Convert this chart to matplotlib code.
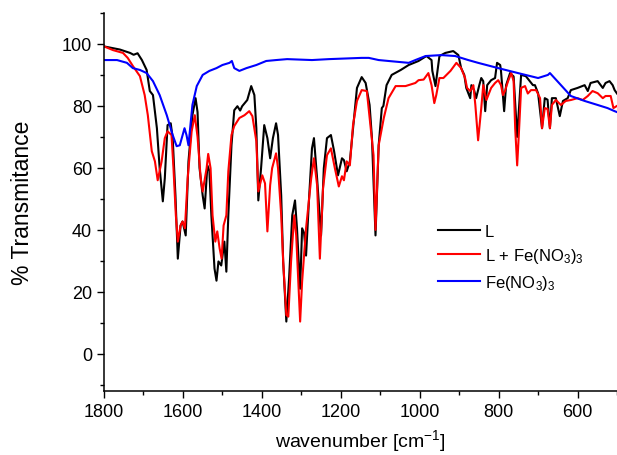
import numpy as np
import matplotlib
matplotlib.use("Agg")
import matplotlib.pyplot as plt
from matplotlib.ticker import MultipleLocator

plt.rcParams['font.family'] = ['Liberation Sans', 'DejaVu Sans']
plt.rcParams['mathtext.default'] = 'regular'

# ----------------------------------------------------
# DATA
# ----------------------------------------------------
wn_L = [1800, 1760, 1734, 1725, 1715, 1704, 1692, 1684, 1676, 1666, 1659, 1651, 1646,
        1639, 1631, 1626, 1619, 1613, 1606, 1601, 1593, 1586, 1576, 1568, 1563, 1558,
        1550, 1545, 1538, 1533, 1528, 1520, 1515, 1510, 1503, 1495, 1490, 1485, 1477,
        1470, 1462, 1455, 1450, 1437, 1427, 1419, 1414, 1409, 1402, 1394, 1386, 1379,
        1372, 1364, 1359, 1351, 1346, 1338, 1331, 1323, 1316, 1311, 1303, 1298, 1293,
        1288, 1280, 1273, 1268, 1260, 1250, 1243, 1235, 1225, 1217, 1207, 1197, 1192,
        1185, 1177, 1169, 1159, 1147, 1137, 1127, 1121, 1112, 1104, 1096, 1092, 1084,
        1071, 1048, 1028, 1003, 983, 970, 968, 960, 955, 950, 935, 915, 902, 895, 887,
        882, 872, 869, 862, 857, 849, 844, 839, 834, 829, 819, 809, 804, 796, 794, 786,
        781, 771, 762, 753, 748, 743, 731, 721, 713, 708, 700, 690, 683, 676, 670, 665,
        655, 645, 637, 625, 617, 600, 582, 574, 567, 549, 536, 529, 519, 511, 506, 500]
T_L = [99.2, 98.2, 97.1, 96.5, 97.0, 94.8, 91.6, 84.8, 83.5, 72.8, 59.9, 49.2, 56.6,
       73.8, 74.4, 69.6, 51.1, 30.7, 41.4, 42.7, 38.2, 62.1, 77.0, 82.5, 78.0, 60.0,
       51.1, 46.9, 60.8, 59.0, 44.7, 27.5, 23.6, 29.8, 28.5, 36.2, 26.5, 44.7, 67.3,
       78.6, 79.9, 78.5, 79.9, 81.9, 86.4, 83.5, 72.8, 49.5, 59.9, 73.8, 69.6, 63.1,
       69.6, 74.4, 70.6, 51.1, 29.8, 10.4, 24.3, 44.7, 49.5, 40.5, 21.0, 40.5, 39.0,
       31.7, 51.1, 66.3, 69.6, 56.6, 38.2, 59.9, 69.6, 70.6, 65.4, 57.6, 63.1, 62.5,
       58.9, 62.1, 72.8, 85.8, 89.3, 87.4, 80.3, 69.6, 38.2, 67.3, 79.3, 80.0, 86.7,
       90.0, 91.6, 93.2, 94.5, 96.1, 94.8, 91.3, 86.4, 91.3, 96.1, 97.1, 97.7, 96.4,
       92.2, 90.0, 85.8, 82.5, 86.7, 85.0, 82.5, 86.7, 89.0, 88.0, 78.3, 86.7, 88.3,
       89.0, 93.9, 93.2, 91.3, 78.3, 86.7, 90.6, 89.5, 70.0, 80.0, 90.0, 89.6, 88.0,
       86.7, 86.7, 84.1, 72.8, 82.5, 82.0, 72.8, 82.5, 82.5, 76.7, 81.6, 82.5, 85.1,
       85.8, 86.7, 84.8, 87.4, 88.0, 85.8, 87.4, 88.0, 86.7, 85.1, 84.0]

wn_LFe = [1800, 1777, 1752, 1740, 1727, 1709, 1697, 1689, 1679, 1671, 1664, 1654, 1646,
          1639, 1629, 1624, 1618, 1613, 1606, 1601, 1595, 1588, 1578, 1570, 1563, 1555,
          1550, 1540, 1536, 1530, 1525, 1518, 1513, 1507, 1502, 1497, 1490, 1485, 1477,
          1470, 1457, 1444, 1432, 1424, 1414, 1409, 1399, 1392, 1386, 1379, 1374, 1364,
          1359, 1351, 1346, 1338, 1333, 1326, 1318, 1313, 1303, 1298, 1288, 1275, 1268,
          1260, 1253, 1245, 1235, 1225, 1215, 1205, 1197, 1192, 1185, 1177, 1169, 1159,
          1147, 1134, 1124, 1117, 1112, 1104, 1091, 1079, 1061, 1036, 1011, 1003, 990,
          978, 970, 963, 958, 950, 940, 922, 907, 895, 885, 880, 872, 864, 859, 852, 844,
          839, 831, 819, 809, 801, 794, 789, 784, 776, 768, 762, 758, 753, 748, 743, 733,
          726, 718, 705, 695, 690, 683, 676, 670, 665, 655, 642, 630, 617, 600, 587, 574,
          562, 549, 536, 529, 516, 509, 500]
T_LFe = [99.2, 98.0, 97.1, 95.5, 92.9, 89.6, 83.5, 77.0, 65.4, 62.1, 56.0, 62.1, 69.6,
         71.8, 70.6, 59.9, 44.7, 36.2, 41.4, 42.7, 40.5, 56.6, 71.8, 77.0, 70.0, 56.6,
         52.4, 59.9, 64.5, 59.9, 44.7, 36.2, 39.5, 34.0, 30.7, 41.4, 44.7, 58.9, 70.6,
         73.5, 76.1, 77.0, 78.3, 76.7, 68.6, 52.4, 57.6, 55.0, 39.5, 54.4, 59.9, 64.7,
         59.9, 44.7, 29.8, 12.5, 12.0, 29.8, 44.7, 38.2, 10.4, 23.3, 40.5, 56.6, 63.1,
         54.4, 30.7, 53.4, 64.1, 66.3, 59.9, 54.0, 57.3, 56.0, 62.1, 60.8, 73.8, 81.6,
         85.1, 84.8, 72.8, 64.1, 40.0, 67.3, 76.1, 82.5, 86.4, 86.4, 87.4, 88.3, 88.5,
         90.6, 86.7, 80.9, 83.5, 89.0, 89.0, 91.3, 93.9, 92.2, 89.0, 85.8, 84.8, 86.7,
         80.3, 68.9, 79.3, 86.7, 81.9, 85.8, 87.4, 88.3, 86.7, 83.5, 84.8, 88.0, 90.6,
         88.0, 72.8, 60.8, 72.8, 85.8, 86.4, 84.0, 85.1, 85.1, 82.5, 72.8, 79.3, 79.0,
         72.8, 80.3, 81.9, 80.3, 81.6, 81.9, 82.5, 81.9, 83.2, 84.8, 84.1, 82.5, 83.2,
         83.2, 79.3, 80.0]

wn_Fe = [1800, 1767, 1742, 1727, 1709, 1692, 1676, 1659, 1641, 1626, 1616, 1608, 1596,
         1591, 1586, 1576, 1565, 1550, 1533, 1515, 1500, 1482, 1476, 1470, 1457, 1439,
         1414, 1389, 1364, 1336, 1273, 1230, 1147, 1129, 1104, 1079, 1028, 1011, 985,
         945, 910, 877, 852, 801, 751, 700, 675, 670, 642, 617, 582, 549, 524, 506, 500]
T_Fe = [94.8, 94.8, 93.9, 92.2, 91.6, 90.6, 88.0, 83.5, 77.0, 70.6, 67.0, 67.3, 72.8,
        70.6, 67.3, 80.3, 86.4, 90.0, 91.3, 92.2, 93.2, 93.9, 94.5, 92.2, 91.3, 92.2,
        93.2, 94.5, 94.8, 95.1, 94.8, 95.1, 95.5, 95.5, 94.8, 94.5, 93.9, 94.8, 96.1,
        96.4, 96.1, 94.8, 93.9, 92.2, 90.6, 89.0, 90.0, 90.6, 86.7, 83.2, 81.6, 80.3,
        79.3, 78.3, 78.0]

series = [
    (wn_L, T_L, "black", "L"),
    (wn_LFe, T_LFe, "#ff0000", "L + Fe(NO$_3$)$_3$"),
    (wn_Fe, T_Fe, "#0000ff", "Fe(NO$_3$)$_3$"),
]

# ----------------------------------------------------
# PLOT
# ----------------------------------------------------
fig = plt.figure(figsize=(6.17, 4.56), dpi=100)
ax = fig.add_axes([0.1686, 0.1404, 0.8314, 0.8290])

for wn, T, col, lab in series:
    ax.plot(wn, T, color=col, linewidth=1.5, label=lab)

ax.set_xlim(1800, 500)
ax.set_ylim(-12, 110)
ax.xaxis.set_major_locator(MultipleLocator(200))
ax.xaxis.set_minor_locator(MultipleLocator(100))
ax.yaxis.set_major_locator(MultipleLocator(20))
ax.yaxis.set_minor_locator(MultipleLocator(10))
ax.tick_params(which="major", direction="out", length=5, width=1, labelsize=13)
ax.tick_params(which="minor", direction="out", length=3, width=1)

for side in ("top", "right"):
    ax.spines[side].set_visible(False)
for side in ("left", "bottom"):
    ax.spines[side].set_linewidth(1.1)

ax.set_xlabel("wavenumber [cm$^{-1}$]", fontsize=14, labelpad=5)
ax.set_ylabel("% Transmitance", fontsize=16.5, labelpad=20)

ax.legend(loc="upper left", bbox_to_anchor=(0.651, 0.443), frameon=False,
          fontsize=12, handlelength=2.5, handletextpad=0.3, labelspacing=0.45,
          borderpad=0, borderaxespad=0)

fig.savefig("out.png", dpi=100)
